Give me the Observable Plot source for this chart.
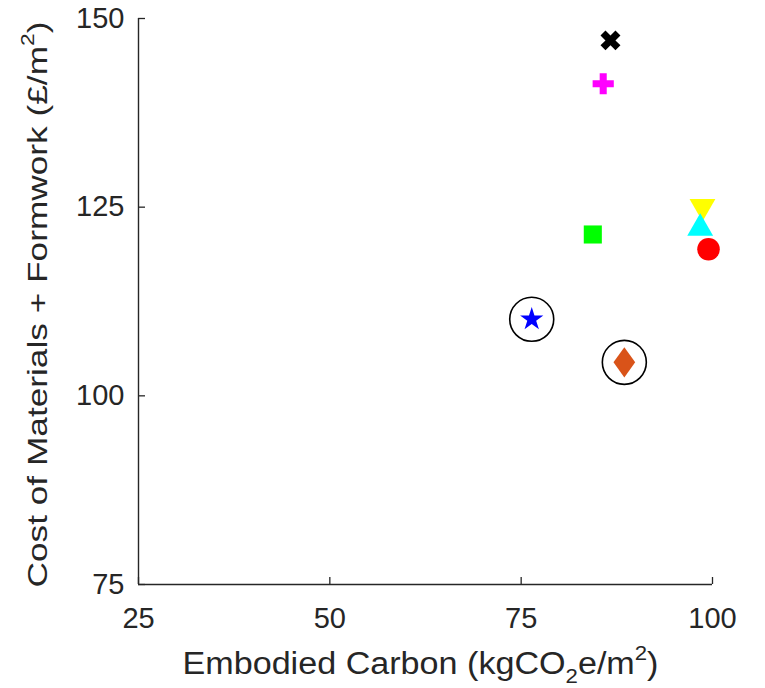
<!DOCTYPE html>
<html>
<head>
<meta charset="utf-8">
<script src="https://cdn.jsdelivr.net/npm/d3@7"></script>
<script src="https://cdn.jsdelivr.net/npm/@observablehq/plot@0.6"></script>
<style>
  html, body { margin: 0; padding: 0; background: #fff; }
  #chart { width: 765px; height: 688px; }
  svg { font-family: "Liberation Sans", Arial, sans-serif; }
</style>
</head>
<body>
<div id="chart"></div>
<script>
const names = ["A", "B", "C", "D", "E", "F", "G", "H"];
const carbon = [86.67, 85.72, 84.36, 98.69, 98.39, 99.48, 76.38, 88.48];
const cost = [147.1, 141.35, 121.38, 125.09, 122.21, 119.43, 110.14, 104.44];
const symbols = ["cross", "cross", "square", "triangle", "triangle", "circle", "star", "diamond"];
const rotations = [45, 0, 0, 180, 0, 0, 0, 0];
const colors = ["#000000", "#ff00ff", "#00ff00", "#ffff00", "#00ffff", "#ff0000", "#0000ff", "#d95319"];
const sizes = [8.9, 8.9, 10.2, 9.6, 9.6, 11.3, 7.3, 10.2];
const highlighted = ["G", "H"];
const xTicks = [25, 50, 75, 100];
const yTicks = [75, 100, 125, 150];
const xTitle = "Embodied Carbon (kgCO2e/m2)";
const yTitle = "Cost of Materials + Formwork (\u00a3/m2)";

const data = names.map((n, i) => ({
  name: n, x: carbon[i], y: cost[i], symbol: symbols[i],
  rotate: rotations[i], color: colors[i], r: sizes[i]
}));
const rings = data.filter(d => highlighted.includes(d.name));

// MATLAB-like diamond (squatter than d3's)
const matlabDiamond = {
  draw(context, size) {
    const h = Math.sqrt(size / 1.44), w = 0.72 * h;
    context.moveTo(0, -h); context.lineTo(w, 0); context.lineTo(0, h); context.lineTo(-w, 0); context.closePath();
  }
};

const axisColor = "#262626";

const chart = Plot.plot({
  width: 765,
  height: 688,
  marginLeft: 138,
  marginRight: 53,
  marginTop: 18,
  marginBottom: 104,
  style: { fontFamily: "'Liberation Sans', Arial, sans-serif", background: "#fff", color: axisColor },
  x: { domain: [25, 100] },
  y: { domain: [75, 150] },
  r: { type: "identity" },
  symbol: { type: "identity" },
  marks: [
    Plot.ruleX([25], { stroke: axisColor, strokeWidth: 1.4 }),
    Plot.ruleY([75], { stroke: axisColor, strokeWidth: 1.4 }),
    Plot.axisX({ ticks: xTicks, tickSize: -7, tickPadding: 30, fontSize: 29, tickFormat: d => String(d), label: null, stroke: axisColor, strokeWidth: 1.3, fill: axisColor }),
    Plot.axisY({ ticks: yTicks, tickSize: -7, tickPadding: 21, fontSize: 29, tickFormat: d => String(d), label: null, stroke: axisColor, strokeWidth: 1.3, fill: axisColor }),
    Plot.text([xTitle], { frameAnchor: "bottom", dx: -5, dy: 89, lineAnchor: "bottom", textAnchor: "middle", fontSize: 31, fill: axisColor, className: "xtitle" }),
    Plot.text([yTitle], { frameAnchor: "left", dx: -92, dy: 3, rotate: -90, lineAnchor: "bottom", textAnchor: "middle", fontSize: 28, fill: axisColor, className: "ytitle" }),
    Plot.dot(data.filter(d => d.symbol !== "diamond"), { x: "x", y: "y", symbol: "symbol", rotate: "rotate", fill: "color", stroke: "none", r: "r" }),
    Plot.dot(data.filter(d => d.symbol === "diamond"), { x: "x", y: "y", symbol: matlabDiamond, fill: "color", stroke: "none", r: "r" }),
    Plot.dot(rings, { x: "x", y: "y", symbol: "circle", r: 22, fill: "none", stroke: "#000", strokeWidth: 1.6 })
  ]
});
document.getElementById("chart").appendChild(chart);

// Add proper sub/superscripts to the axis titles
function richTitle(sel, parts, length, fs) {
  const t = d3.select(chart).select(sel + " text");
  if (t.empty()) return;
  t.text(null);
  let shift = 0;
  for (const [str, kind] of parts) {
    const ts = t.append("tspan").text(str);
    const target = kind === "sub" ? 0.3 : kind === "sup" ? -0.45 : 0;
    const delta = target - shift;
    if (delta !== 0) ts.attr("dy", (delta * fs) + "px");
    shift = target;
    if (kind) ts.attr("font-size", "0.65em");
  }
  if (shift !== 0) t.append("tspan").attr("dy", (-shift * fs) + "px").text("");
  if (length) t.attr("textLength", length).attr("lengthAdjust", "spacingAndGlyphs");
}
richTitle(".xtitle", [["Embodied Carbon (kgCO"], ["2", "sub"], ["e/m"], ["2", "sup"], [")"]], 476, 31);
richTitle(".ytitle", [["Cost of Materials + Formwork (\u00a3/m"], ["2", "sup"], [")"]], 566, 28);
</script>
</body>
</html>
